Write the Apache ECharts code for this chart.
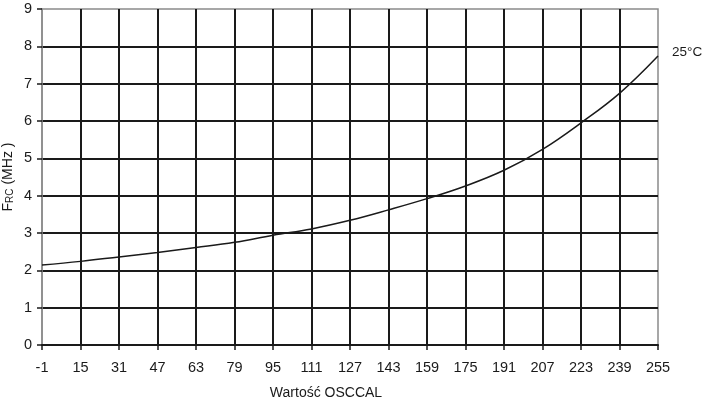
<!DOCTYPE html>
<html>
<head>
<meta charset="utf-8">
<script src="https://cdn.jsdelivr.net/npm/echarts@6/dist/echarts.min.js"></script>
<style>html,body{margin:0;padding:0;background:#fff;}#c{width:708px;height:402px;}</style>
</head>
<body>
<div id="c"></div>
<script>
const categories = ["-1","15","31","47","63","79","95","111","127","143","159","175","191","207","223","239","255"];
const freq25 = [2.14,2.24,2.36,2.48,2.61,2.75,2.94,3.11,3.34,3.62,3.92,4.26,4.68,5.24,5.95,6.74,7.74];
const yTicks = {min:0, max:9, interval:1};
const seriesName = "25°C";

const chart = echarts.init(document.getElementById('c'), null, {renderer:'canvas'});
const font = '"Liberation Sans", Arial, sans-serif';
chart.setOption({
  animation:false,
  grid:{left:42, right:50, top:9, bottom:57, containLabel:false, outerBoundsMode:'none', show:true, borderColor:'#8a8a8a', borderWidth:1.5, backgroundColor:'transparent'},
  xAxis:{
    type:'category', data:categories, boundaryGap:false,
    name:'Wartość OSCCAL', nameLocation:'middle', nameGap:41, nameMoveOverlap:false,
    nameTextStyle:{fontFamily:font, fontSize:14, color:'#1a1a1a', padding:[0,48,0,0]},
    axisLine:{show:true, lineStyle:{color:'#1a1a1a', width:2}},
    axisTick:{show:true, length:5, lineStyle:{color:'#1a1a1a', width:1.5}},
    axisLabel:{fontFamily:font, fontSize:14.5, color:'#1a1a1a', margin:15, interval:0},
    splitLine:{show:true, showMinLine:false, showMaxLine:false, lineStyle:{color:'#1a1a1a', width:2}}
  },
  yAxis:{
    type:'value', min:yTicks.min, max:yTicks.max, interval:yTicks.interval,
    name:'{a|F}{b|RC}{a| (MHz )}', nameLocation:'middle', nameGap:27, nameRotate:90, nameMoveOverlap:false,
    nameTextStyle:{fontFamily:font, color:'#1a1a1a', rich:{
      a:{fontFamily:font, fontSize:14, color:'#1a1a1a', verticalAlign:'bottom', lineHeight:16},
      b:{fontFamily:font, fontSize:10, color:'#1a1a1a', verticalAlign:'bottom', lineHeight:12}
    }},
    axisLine:{show:true, lineStyle:{color:'#8a8a8a', width:1.5}},
    axisTick:{show:true, length:5, lineStyle:{color:'#1a1a1a', width:1.5}},
    axisLabel:{fontFamily:font, fontSize:14.5, color:'#1a1a1a', margin:10},
    splitLine:{show:true, showMinLine:false, showMaxLine:false, lineStyle:{color:'#1a1a1a', width:2}}
  },
  series:[{
    name:seriesName, type:'line', data:freq25, smooth:0.4, symbol:'none',
    lineStyle:{color:'#1a1a1a', width:1.5},
    endLabel:{show:true, formatter:seriesName, fontFamily:font, fontSize:13.5, color:'#1a1a1a', distance:14, offset:[0,-4]}
  }]
});
</script>
</body>
</html>
